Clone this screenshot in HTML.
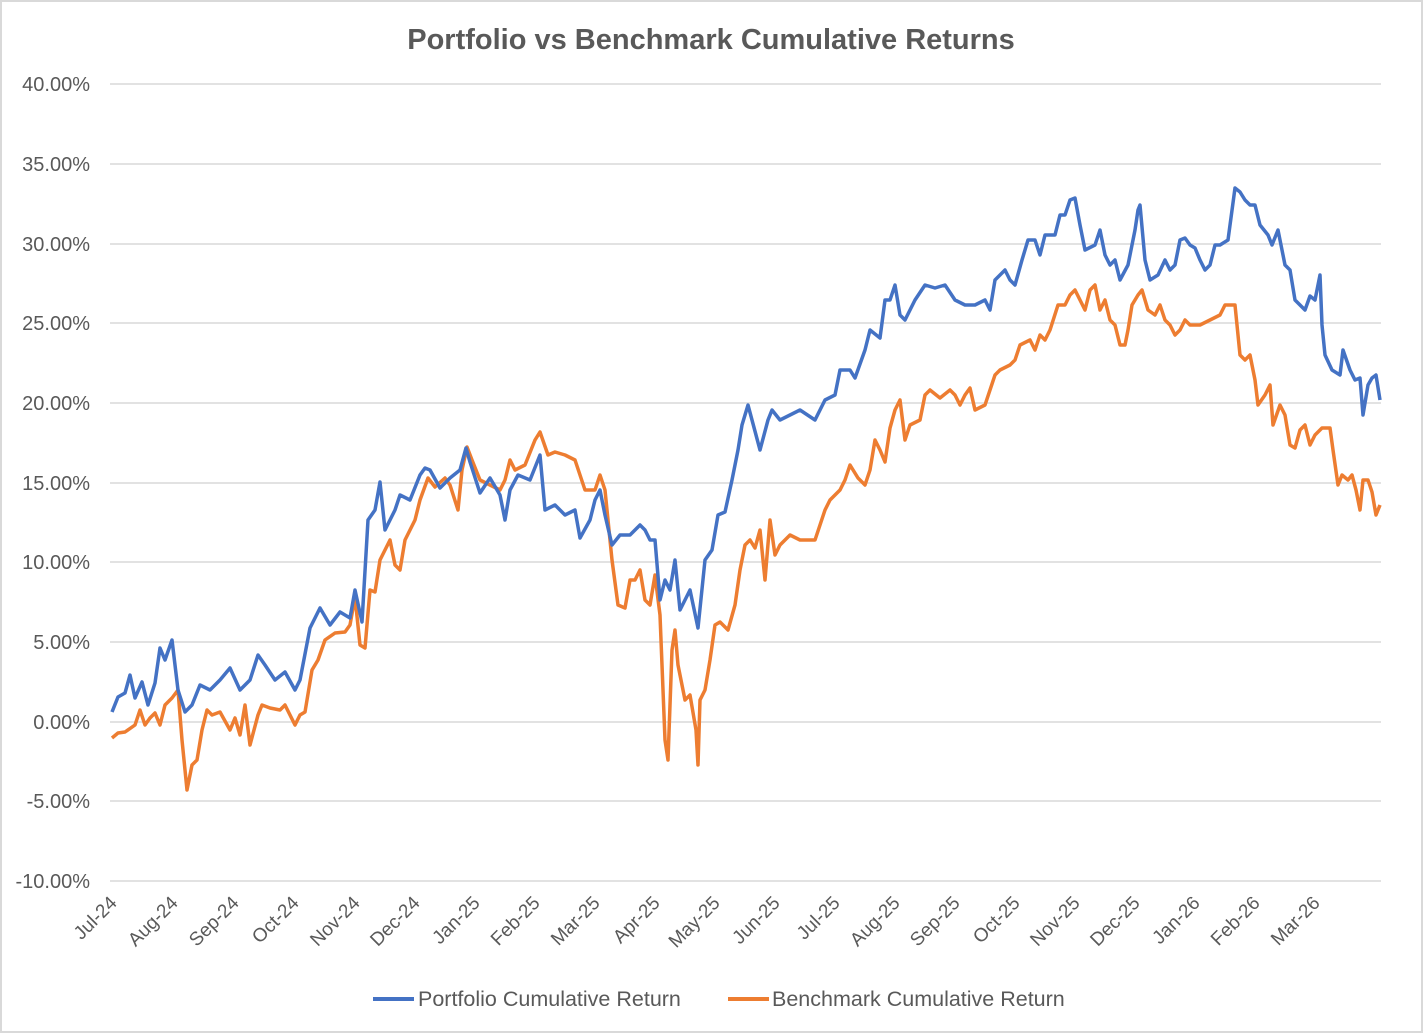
<!DOCTYPE html>
<html><head><meta charset="utf-8"><style>
html,body{margin:0;padding:0;background:#fff}
svg{display:block;font-family:"Liberation Sans",sans-serif}
</style></head><body>
<svg width="1423" height="1033" viewBox="0 0 1423 1033" xmlns="http://www.w3.org/2000/svg">
<rect x="1" y="1" width="1421" height="1031" fill="#fff" stroke="#d9d9d9" stroke-width="2"/>
<text x="711" y="49" text-anchor="middle" font-size="29" font-weight="bold" fill="#595959">Portfolio vs Benchmark Cumulative Returns</text>
<g stroke="#d9d9d9" stroke-width="1.5">
<line x1="110" x2="1381" y1="84" y2="84"/><line x1="110" x2="1381" y1="164" y2="164"/>
<line x1="110" x2="1381" y1="244" y2="244"/><line x1="110" x2="1381" y1="323" y2="323"/>
<line x1="110" x2="1381" y1="403" y2="403"/><line x1="110" x2="1381" y1="483" y2="483"/>
<line x1="110" x2="1381" y1="562" y2="562"/><line x1="110" x2="1381" y1="642" y2="642"/>
<line x1="110" x2="1381" y1="722" y2="722"/><line x1="110" x2="1381" y1="801" y2="801"/>
<line x1="110" x2="1381" y1="881" y2="881"/>
</g>
<g font-size="20" fill="#595959" text-anchor="end">
<text x="90" y="91">40.00%</text><text x="90" y="171">35.00%</text><text x="90" y="251">30.00%</text>
<text x="90" y="330">25.00%</text><text x="90" y="410">20.00%</text><text x="90" y="490">15.00%</text>
<text x="90" y="569">10.00%</text><text x="90" y="649">5.00%</text><text x="90" y="729">0.00%</text>
<text x="90" y="808">-5.00%</text><text x="90" y="888">-10.00%</text>
</g>
<g font-size="19" fill="#595959" text-anchor="end">
<text transform="translate(118,904) rotate(-45)">Jul-24</text>
<text transform="translate(179,904) rotate(-45)">Aug-24</text>
<text transform="translate(240,904) rotate(-45)">Sep-24</text>
<text transform="translate(300,904) rotate(-45)">Oct-24</text>
<text transform="translate(361,904) rotate(-45)">Nov-24</text>
<text transform="translate(421,904) rotate(-45)">Dec-24</text>
<text transform="translate(481,904) rotate(-45)">Jan-25</text>
<text transform="translate(541,904) rotate(-45)">Feb-25</text>
<text transform="translate(601,904) rotate(-45)">Mar-25</text>
<text transform="translate(661,904) rotate(-45)">Apr-25</text>
<text transform="translate(721,904) rotate(-45)">May-25</text>
<text transform="translate(781,904) rotate(-45)">Jun-25</text>
<text transform="translate(841,904) rotate(-45)">Jul-25</text>
<text transform="translate(901,904) rotate(-45)">Aug-25</text>
<text transform="translate(961,904) rotate(-45)">Sep-25</text>
<text transform="translate(1021,904) rotate(-45)">Oct-25</text>
<text transform="translate(1081,904) rotate(-45)">Nov-25</text>
<text transform="translate(1141,904) rotate(-45)">Dec-25</text>
<text transform="translate(1201,904) rotate(-45)">Jan-26</text>
<text transform="translate(1261,904) rotate(-45)">Feb-26</text>
<text transform="translate(1321,904) rotate(-45)">Mar-26</text>
</g>
<polyline fill="none" stroke="#ed7d31" stroke-width="3.5" stroke-linejoin="round" points="112,738 118,733 125,732 135,725 140,710 145,725 150,718 155,713 160,725 165,705 172,698 178,690 182,740 187,790 192,765 197,760 202,730 207,710 212,715 220,712 230,730 235,718 240,735 245,705 250,745 258,715 262,705 270,708 280,710 285,705 295,725 300,715 305,712 312,670 318,660 325,640 335,633 345,632 350,625 355,597 360,645 365,648 370,590 375,592 380,560 390,540 395,565 400,570 405,540 415,520 420,500 428,478 435,487 445,478 450,485 458,510 462,470 467,447 472,460 480,480 490,485 500,490 505,480 510,460 515,470 525,465 535,440 540,432 548,455 555,452 565,455 575,460 585,490 595,490 600,475 605,490 612,560 618,605 625,608 630,580 635,580 640,570 645,600 650,605 655,575 660,615 665,740 668,760 672,650 675,630 678,665 685,700 690,695 696,730 698,765 700,700 705,690 710,660 715,625 720,622 728,630 735,605 740,570 745,545 750,540 755,548 760,530 765,580 770,520 775,555 780,545 790,535 800,540 815,540 825,510 830,500 840,490 845,480 850,465 858,478 865,485 870,470 875,440 880,450 885,462 890,428 895,410 900,400 905,440 910,425 920,420 925,395 930,390 940,398 950,390 955,395 960,405 965,395 970,388 975,410 985,405 995,375 1000,370 1010,365 1015,360 1020,345 1030,340 1035,350 1040,335 1045,340 1050,330 1058,305 1065,305 1070,295 1075,290 1080,300 1085,310 1090,290 1095,285 1100,310 1105,300 1110,320 1115,325 1120,345 1125,345 1128,330 1132,305 1138,295 1142,290 1148,310 1155,315 1160,305 1165,320 1170,325 1175,335 1180,330 1185,320 1190,325 1200,325 1210,320 1220,315 1225,305 1235,305 1240,355 1245,360 1250,355 1255,380 1258,405 1265,395 1270,385 1273,425 1280,405 1285,415 1290,445 1295,448 1300,430 1305,425 1310,445 1315,435 1322,428 1330,428 1333,450 1338,485 1342,475 1348,480 1352,475 1356,490 1360,510 1363,480 1368,480 1372,492 1376,515 1380,505"/>
<polyline fill="none" stroke="#4472c4" stroke-width="3.5" stroke-linejoin="round" points="112,712 118,697 125,693 130,675 135,698 142,682 148,705 155,683 160,648 165,660 172,640 178,690 185,712 192,705 200,685 210,690 220,680 230,668 240,690 250,680 258,655 265,665 275,680 285,672 295,690 300,680 310,628 320,608 330,625 340,612 350,618 355,590 362,622 368,520 375,510 380,482 385,530 395,510 400,495 410,500 420,475 425,468 430,470 440,488 450,478 460,470 466,448 470,462 480,493 490,478 500,495 505,520 510,490 518,475 530,480 540,455 545,510 555,505 565,515 575,510 580,538 590,520 595,500 600,490 605,515 612,545 620,535 630,535 640,525 645,530 650,540 655,540 660,600 665,580 670,590 675,560 680,610 690,590 698,628 705,560 712,550 718,515 725,512 732,480 738,450 742,425 748,405 752,420 760,450 768,420 772,410 780,420 790,415 800,410 815,420 825,400 835,395 840,370 850,370 855,378 865,350 870,330 880,338 885,300 890,300 895,285 900,315 905,320 915,300 925,285 935,288 945,285 955,300 965,305 975,305 985,300 990,310 995,280 1000,275 1005,270 1010,280 1015,285 1022,260 1028,240 1035,240 1040,255 1045,235 1055,235 1060,215 1065,215 1070,200 1075,198 1080,225 1085,250 1095,245 1100,230 1105,255 1110,265 1115,260 1120,280 1128,265 1135,230 1138,210 1140,205 1145,260 1150,280 1158,275 1165,260 1170,270 1175,265 1180,240 1185,238 1190,245 1195,248 1200,260 1205,270 1210,265 1215,245 1220,245 1228,240 1235,188 1240,192 1245,200 1250,205 1255,205 1260,225 1268,235 1272,245 1278,230 1285,265 1290,270 1295,300 1305,310 1310,296 1315,300 1320,275 1322,325 1325,355 1332,370 1340,375 1343,350 1350,370 1355,380 1360,378 1363,415 1368,385 1372,378 1376,375 1380,400"/>
<line x1="373" x2="414" y1="999" y2="999" stroke="#4472c4" stroke-width="4"/>
<text x="418" y="1006" font-size="21.5" fill="#595959">Portfolio Cumulative Return</text>
<line x1="728" x2="769" y1="999" y2="999" stroke="#ed7d31" stroke-width="4"/>
<text x="772" y="1006" font-size="21.5" fill="#595959">Benchmark Cumulative Return</text>
</svg>
</body></html>
